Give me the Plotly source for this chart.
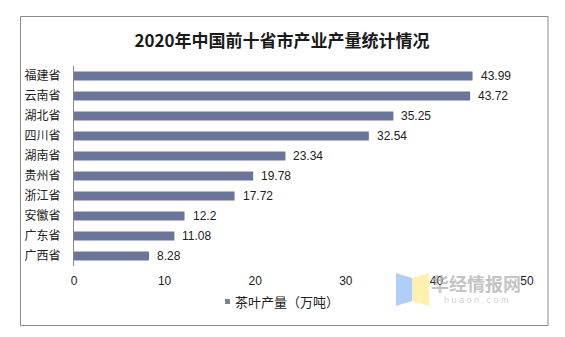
import plotly.graph_objects as go

# Tea output by province, 2020 (10k tonnes)
provinces = ["福建省", "云南省", "湖北省", "四川省", "湖南省",
             "贵州省", "浙江省", "安徽省", "广东省", "广西省"]
output = [43.99, 43.72, 35.25, 32.54, 23.34, 19.78, 17.72, 12.2, 11.08, 8.28]
value_labels = ["43.99", "43.72", "35.25", "32.54", "23.34",
                "19.78", "17.72", "12.2", "11.08", "8.28"]
series_name = "茶叶产量（万吨）"
title_text = "2020年中国前十省市产业产量统计情况"

W, H = 565, 337
M_L, M_R, M_T, M_B = 74, 38, 66, 71
PW, PH = W - M_L - M_R, H - M_T - M_B

BAR = "#6b7499"
CJK = "Noto Sans CJK SC"
LAT = "Liberation Sans, Noto Sans CJK SC"


def px(x):
    return (x - M_L) / PW


def py(y):
    return (H - M_B - y) / PH


fig = go.Figure()
fig.add_trace(go.Bar(
    x=output, y=provinces, orientation="h", width=0.46,
    marker=dict(color=BAR, line=dict(width=0)),
    showlegend=False, hoverinfo="x+y",
))

# value labels at the end of each bar
for v, p, lab in zip(output, provinces, value_labels):
    fig.add_annotation(x=v, y=p, text=lab, showarrow=False, xanchor="left",
                       xshift=6, font=dict(family=LAT, size=12, color="#222"))

shapes = [
    # outer frame
    dict(type="rect", xref="paper", yref="paper", x0=px(20.5), x1=px(548),
         y0=py(325.5), y1=py(16.5), line=dict(color="#8a8a8a", width=1),
         layer="below"),
    # legend swatch
    dict(type="rect", xref="paper", yref="paper", x0=px(225), x1=px(230),
         y0=py(304), y1=py(299), fillcolor="#7e8296", line=dict(width=0)),
    # watermark logo
    dict(type="path", xref="paper", yref="paper",
         path=f"M {px(396)} {py(273)} L {px(412)} {py(278)} L {px(412)} {py(301)} L {px(396)} {py(306)} Z",
         fillcolor="rgba(150,190,245,0.75)", line=dict(width=0)),
    dict(type="path", xref="paper", yref="paper",
         path=f"M {px(412)} {py(278)} L {px(429)} {py(273)} L {px(429)} {py(306)} L {px(412)} {py(301)} Z",
         fillcolor="rgba(253,236,150,0.75)", line=dict(width=0)),
]

annotations = [
    dict(xref="paper", yref="paper", x=px(233), y=py(301), text=series_name,
         showarrow=False, xanchor="left", yanchor="middle",
         font=dict(family=CJK, size=13, color="#222")),
    dict(xref="paper", yref="paper", x=px(476), y=py(283), text="华经情报网",
         showarrow=False, xanchor="center", yanchor="middle",
         font=dict(family=CJK, size=18, color="rgba(175,175,175,0.75)", weight="bold")),
    dict(xref="paper", yref="paper", x=px(476), y=py(300), text="h u a o n . c o m",
         showarrow=False, xanchor="center", yanchor="middle",
         font=dict(family=LAT, size=9, color="rgba(190,190,190,0.75)")),
]

fig.update_layout(
    width=W, height=H,
    margin=dict(l=M_L, r=M_R, t=M_T, b=M_B),
    paper_bgcolor="white", plot_bgcolor="white",
    title=dict(text=title_text, x=(282 - 0) / W, xanchor="center",
               y=1 - 41 / H, yanchor="middle", yref="container",
               font=dict(family=CJK, size=17, color="#1a1a1a", weight="bold")),
    bargap=0.54,
    shapes=shapes,
    annotations=fig.layout.annotations + tuple(annotations),
    showlegend=False,
)
fig.update_xaxes(range=[0, 50], dtick=10, showgrid=False, zeroline=False,
                 showline=False, ticks="", ticklabelstandoff=6,
                 tickfont=dict(family=LAT, size=12, color="#222"))
fig.update_yaxes(autorange="reversed", showgrid=False, zeroline=False,
                 showline=True, linecolor="#8a8a8a", linewidth=1, ticks="",
                 ticklabelstandoff=10,
                 tickfont=dict(family=CJK, size=12, color="#222"))

fig.write_html("out.html")
